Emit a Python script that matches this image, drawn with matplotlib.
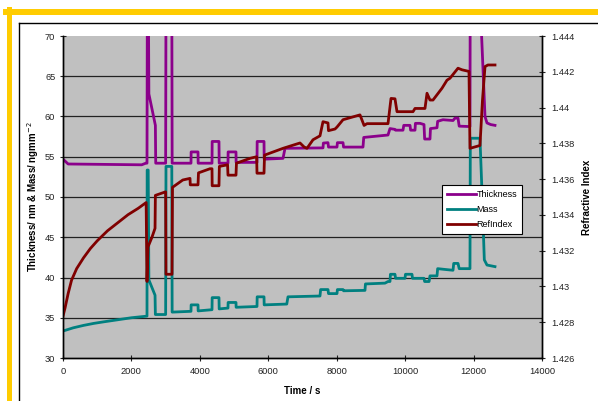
import numpy as np
import matplotlib
matplotlib.use('Agg')
import matplotlib.pyplot as plt
from matplotlib.lines import Line2D
from matplotlib.ticker import FuncFormatter

plt.rcParams['font.family'] = ['Liberation Sans', 'DejaVu Sans']

# Thickness (nm), spikes go past the top of the axis
t_thick = [0, 150, 2300, 2420, 2455, 2465, 2495, 2510, 2700, 2710, 3000, 3010, 3180, 3190,
           3741, 3745, 3946, 3950, 4355, 4360, 4559, 4565, 4822, 4826, 5056, 5060, 5670, 5675,
           5875, 5880, 6430, 6489, 7599, 7610, 7745, 7760, 8008, 8020, 8184, 8200, 8768, 8790,
           9499, 9557, 9703, 9720, 9937, 9960, 10142, 10160, 10288, 10300, 10434, 10551, 10570,
           10726, 10740, 10931, 10950, 11106, 11399, 11457, 11545, 11580, 11895, 11900, 12225,
           12334, 12392, 12500, 12626]
thickness = [54.7, 54.1, 54.0, 54.2, 54.2, 75, 75, 62.8, 58.9, 54.2, 54.2, 75, 75, 54.2,
             54.2, 55.6, 55.6, 54.2, 54.2, 56.9, 56.9, 54.2, 54.2, 55.6, 55.6, 54.3, 54.3, 56.9,
             56.9, 54.7, 54.8, 56.05, 56.1, 56.7, 56.75, 56.2, 56.2, 56.75, 56.75, 56.2, 56.2, 57.4,
             57.7, 58.5, 58.4, 58.3, 58.3, 58.9, 58.9, 58.3, 58.3, 59.15, 59.15, 59.0, 57.2,
             57.2, 58.5, 58.6, 59.4, 59.6, 59.5, 59.8, 59.8, 58.8, 58.75, 71, 71,
             60.0, 59.2, 59.0, 58.9]

# Mass (ng/mm2)
t_mass = [0, 300, 600, 900, 1200, 1600, 2000, 2455, 2460, 2490, 2510, 2690, 2700, 3000, 3010,
          3180, 3190, 3741, 3745, 3946, 3950, 4355, 4360, 4559, 4565, 4822, 4826, 5056, 5060,
          5670, 5675, 5875, 5880, 6540, 6576, 7511, 7530, 7745, 7760, 8008, 8020, 8184, 8200,
          8826, 8840, 9411, 9499, 9557, 9570, 9703, 9720, 9996, 10010, 10200, 10215, 10551,
          10570, 10700, 10726, 10931, 10950, 11165, 11399, 11420, 11545, 11580, 11895, 11905,
          12187, 12255, 12314, 12392, 12626]
mass = [33.35, 33.75, 34.05, 34.3, 34.5, 34.75, 35.0, 35.2, 53.35, 53.35, 39.7, 37.8, 35.4, 35.4, 53.8,
        53.8, 35.7, 35.8, 36.6, 36.6, 35.85, 36.0, 37.5, 37.5, 36.1, 36.2, 36.9, 36.9, 36.3,
        36.4, 37.6, 37.6, 36.6, 36.7, 37.6, 37.7, 38.5, 38.5, 38.0, 38.0, 38.5, 38.5, 38.35,
        38.4, 39.2, 39.3, 39.5, 39.5, 40.4, 40.4, 39.9, 39.9, 40.4, 40.4, 39.9, 39.9,
        39.5, 39.5, 40.2, 40.2, 41.1, 41.0, 40.9, 41.75, 41.75, 41.1, 41.1, 57.3,
        57.3, 49.6, 42.2, 41.55, 41.35]

# Refractive index (right axis)
t_ref = [0, 60, 150, 250, 400, 600, 800, 1000, 1300, 1600, 1900, 2200, 2430, 2455, 2484, 2600,
         2690, 2700, 3000, 3010, 3186, 3200, 3500, 3712, 3720, 3946, 3960, 4296, 4355, 4360,
         4559, 4570, 4810, 4822, 5056, 5070, 5465, 5660, 5670, 5875, 5890, 6430, 6927, 7050,
         7131, 7307, 7511, 7599, 7745, 7760, 7950, 8008, 8184, 8680, 8800, 8885, 9499, 9587,
         9703, 9762, 10230, 10288, 10580, 10639, 10726, 10814, 11077, 11223, 11311, 11545,
         11662, 11866, 11895, 12187, 12260, 12334, 12420, 12626]
refindex = [1.42834, 1.42880, 1.42960, 1.43035, 1.43100, 1.43160, 1.43212, 1.43255, 1.43311,
            1.43356, 1.43401, 1.43437, 1.43469, 1.43028, 1.43221, 1.43275,
            1.43325, 1.43509, 1.43529, 1.43068, 1.43068, 1.43554, 1.43595, 1.43604, 1.43568,
            1.43568, 1.43635, 1.43658, 1.43658, 1.43563,
            1.43563, 1.43671, 1.43680, 1.43622, 1.43622, 1.43689, 1.43716, 1.43725, 1.43633,
            1.43633, 1.43734, 1.43772, 1.43802, 1.43779,
            1.43772, 1.43820, 1.43842, 1.43921, 1.43914, 1.43871, 1.43880, 1.43891, 1.43932,
            1.43959, 1.43900, 1.43910, 1.43910, 1.44051,
            1.44049, 1.43977, 1.43977, 1.43995, 1.43995, 1.44080, 1.44042, 1.44042, 1.44108,
            1.44153, 1.44164, 1.44220,
            1.44211, 1.44202, 1.43772, 1.43788, 1.44040, 1.44229, 1.44238, 1.44238]

W, H = 598, 401
fig = plt.figure(figsize=(W / 100, H / 100), dpi=100)
fig.patch.set_facecolor('white')

# yellow frame and chart border
def px(x, y):
    return x / W, 1 - y / H
fig.add_artist(Line2D([px(6, 0)[0], 1], [px(0, 12)[1]] * 2, color='#FFCC00', lw=4.3))
fig.add_artist(Line2D([px(8.5, 0)[0]] * 2, [px(0, 9)[1], 0], color='#FFCC00', lw=3.6))
fig.add_artist(Line2D([px(19, 0)[0], 1], [px(0, 23)[1]] * 2, color='black', lw=1.0))
fig.add_artist(Line2D([px(19, 0)[0]] * 2, [px(0, 23)[1], 0], color='black', lw=1.0))

ax = fig.add_axes([63 / W, (H - 358) / H, 479 / W, 322 / H])
ax.set_facecolor('#C0C0C0')
ax2 = ax.twinx()

ax.plot(t_thick, thickness, color='#8B008B', lw=2.0, label='Thickness')
ax.plot(t_mass, mass, color='#008080', lw=2.0, label='Mass')
ax2.plot(t_ref, refindex, color='#800000', lw=2.0, label='RefIndex')

ax.set_xlim(0, 14000)
ax.set_ylim(30, 70)
ax2.set_ylim(1.426, 1.444)
ax.set_xticks(np.arange(0, 14001, 2000))
ax.set_yticks(np.arange(30, 71, 5))
ax2.set_yticks(np.arange(1.426, 1.4441, 0.002))
ax2.yaxis.set_major_formatter(FuncFormatter(lambda v, p: ('%.3f' % v).rstrip('0')))

for y in range(35, 70, 5):
    ax.axhline(y, color='#222222', lw=0.9, zorder=0.5)

for a in (ax, ax2):
    a.spines['top'].set_visible(False)
    for s in a.spines.values():
        s.set_linewidth(1.0)
ax.tick_params(axis='x', direction='inout', length=5, width=0.8, labelsize=6.7, colors='#222222', pad=4)
ax.tick_params(axis='y', direction='inout', length=5, width=0.8, labelsize=6.7, colors='#222222', pad=3)
ax2.tick_params(direction='inout', length=5, width=0.8, labelsize=6.7, colors='#222222', pad=4)

ax.set_xlabel('Time / s', fontsize=7, fontweight='bold')
ax.set_ylabel('Thickness/ nm & Mass/ ngmm$^{-2}$', fontsize=7, fontweight='bold')
ax2.set_ylabel('Refractive Index', fontsize=7, fontweight='bold')
ax.xaxis.set_label_coords(0.5, -0.088)
ax.yaxis.set_label_coords(-0.046, 0.5)
ax2.yaxis.set_label_coords(1.083, 0.5)

h1, l1 = ax.get_legend_handles_labels()
h2, l2 = ax2.get_legend_handles_labels()
leg = ax2.legend(h1 + h2, l1 + l2, loc='center', bbox_to_anchor=(0.8745, 0.461),
                 fontsize=6.5, frameon=True, fancybox=False, framealpha=1,
                 edgecolor='black', handlelength=3.2, handletextpad=0.1,
                 borderpad=0.5, labelspacing=0.7, borderaxespad=0)
leg.get_frame().set_linewidth(0.8)

fig.savefig('out.png', dpi=100)
